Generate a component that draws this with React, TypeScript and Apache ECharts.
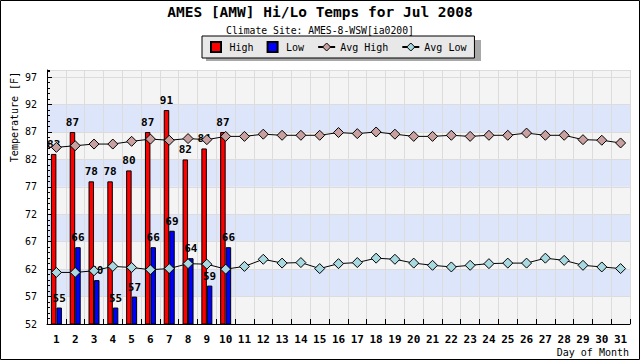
import React, { useEffect, useRef } from 'react';
import * as echarts from 'echarts';

const days = ['1', '2', '3', '4', '5', '6', '7', '8', '9', '10', '11', '12', '13', '14', '15', '16', '17', '18', '19', '20', '21', '22', '23', '24', '25', '26', '27', '28', '29', '30', '31'];
const highTemps = [83, 87, 78, 78, 80, 87, 91, 82, 84, 87];
const lowTemps = [55, 66, 60, 55, 57, 66, 69, 64, 59, 66];
const avgHigh = [84.2, 84.5, 84.8, 84.8, 85.3, 85.7, 85.5, 85.8, 85.6, 86.2, 86.2, 86.6, 86.4, 86.4, 86.4, 86.9, 86.7, 87.0, 86.6, 86.2, 86.2, 86.4, 86.2, 86.4, 86.4, 86.8, 86.4, 86.4, 85.6, 85.5, 85.0];
const avgLow = [61.4, 61.4, 61.7, 62.5, 62.3, 61.9, 62.1, 63.0, 62.9, 62.0, 62.5, 63.8, 63.1, 63.2, 62.1, 63.0, 63.2, 64.0, 63.8, 63.1, 62.7, 62.4, 62.7, 63.0, 63.1, 63.1, 64.0, 63.6, 62.7, 62.4, 62.1];
const yMin = 52;
const yMax = 98.3;
const yStep = 5;

const MONO = "'DejaVu Sans Mono', monospace";
const GRAY = '#f4f4f4';
const BLUE = '#dce5fa';
const AVG_HIGH_COLOR = '#c9a0a0';
const AVG_LOW_COLOR = '#a8d8e0';

export default function App() {
  const ref = useRef<HTMLDivElement>(null);
  useEffect(() => {
    document.body.style.margin = '0';
    const chart = echarts.init(ref.current!, null, { renderer: 'svg' });
    const barLabel = {
      show: true,
      position: 'top',
      distance: 4,
      fontFamily: MONO,
      fontWeight: 'bold',
      fontSize: 11,
      color: '#000',
    };
    chart.setOption({
      animation: false,
      backgroundColor: '#fff',
      title: {
        text: 'AMES [AMW] Hi/Lo Temps for Jul 2008',
        subtext: 'Climate Site: AMES-8-WSW[ia0200]',
        left: 'center',
        top: 4,
        itemGap: 6,
        padding: 0,
        textStyle: { fontFamily: MONO, fontSize: 14.5, fontWeight: 'bold', color: '#000' },
        subtextStyle: { fontFamily: MONO, fontSize: 9.75, color: '#000' },
      },
      legend: {
        left: 202,
        top: 36,
        padding: [5, 8],
        itemGap: 13,
        itemWidth: 17,
        itemHeight: 10,
        backgroundColor: '#e8e8e8',
        borderColor: '#000',
        borderWidth: 1,
        borderRadius: 0,
        z: 5,
        textStyle: { fontFamily: MONO, fontSize: 10, color: '#000' },
        data: [
          { name: 'High', icon: 'path://M0,0H10V10H0Z' },
          { name: 'Low', icon: 'path://M0,0H10V10H0Z' },
          { name: 'Avg High', itemStyle: { color: AVG_HIGH_COLOR, borderColor: '#000', borderWidth: 1 } },
          { name: 'Avg Low', itemStyle: { color: AVG_LOW_COLOR, borderColor: '#000', borderWidth: 1 } },
        ],
      },
      grid: { left: 47, right: 10, top: 70, bottom: 36 },
      xAxis: {
        type: 'category',
        data: days,
        boundaryGap: true,
        axisLine: { lineStyle: { color: '#000', width: 1 } },
        axisTick: { show: true, inside: true, length: 5, lineStyle: { color: '#000' } },
        axisLabel: { fontFamily: MONO, fontWeight: 'bold', fontSize: 11, color: '#000', margin: 10, interval: 0 },
        splitLine: { show: true, lineStyle: { color: '#dcdcdc', width: 1 } },
      },
      yAxis: [
        {
          type: 'value',
          min: yMin,
          max: yMax,
          interval: yStep,
          axisLine: { show: true, lineStyle: { color: '#000', width: 1 } },
          axisTick: { show: true, inside: true, length: 5, lineStyle: { color: '#000' } },
          axisLabel: {
            fontFamily: MONO,
            fontSize: 10,
            color: '#000',
            margin: 10,
            showMaxLabel: false,
            formatter: (v: number) => (Math.abs((v - yMin) % yStep) < 1e-6 ? String(v) : ''),
          },
          splitLine: { show: true, lineStyle: { color: '#dcdcdc', width: 1 } },
          splitArea: {
            show: true,
            areaStyle: { color: [GRAY, BLUE, GRAY, BLUE, GRAY, BLUE, GRAY, BLUE, GRAY, GRAY] },
          },
        },
        {
          type: 'value',
          min: yMin,
          max: yMax,
          interval: 1,
          position: 'left',
          axisLine: { show: false },
          axisTick: { show: true, inside: true, length: 3, lineStyle: { color: '#000' } },
          axisLabel: { show: false },
          splitLine: { show: false },
          splitArea: { show: false },
        },
      ],
      graphic: [
        {
          type: 'rect',
          shape: { x: 206, y: 40, width: 275, height: 21 },
          style: { fill: '#a8a8a8' },
          z: 1,
        },
        {
          type: 'text',
          x: 14,
          y: 117,
          rotation: Math.PI / 2,
          style: {
            text: 'Temperature [F]',
            fontFamily: MONO,
            fontSize: 10,
            fill: '#000',
            textAlign: 'center',
            textVerticalAlign: 'middle',
          },
        },
        {
          type: 'text',
          x: 629,
          y: 352,
          style: {
            text: 'Day of Month',
            fontFamily: MONO,
            fontSize: 10,
            fill: '#000',
            textAlign: 'right',
            textVerticalAlign: 'middle',
          },
        },
        {
          type: 'rect',
          shape: { x: 0.5, y: 0.5, width: 639, height: 359 },
          style: { fill: 'none', stroke: '#000', lineWidth: 1 },
          z: 100,
        },
      ],
      series: [
        {
          name: 'High',
          type: 'bar',
          data: highTemps,
          barWidth: 5.5,
          barGap: '0%',
          itemStyle: { color: '#ff0000', borderColor: '#000', borderWidth: 1 },
          label: barLabel,
          z: 2,
        },
        {
          name: 'Low',
          type: 'bar',
          data: lowTemps,
          barWidth: 5.5,
          barGap: '0%',
          itemStyle: { color: '#0000ff', borderColor: '#000', borderWidth: 1 },
          label: barLabel,
          z: 2,
        },
        {
          name: 'Avg High',
          type: 'line',
          data: avgHigh,
          symbol: 'diamond',
          symbolSize: 10,
          showAllSymbol: true,
          lineStyle: { color: '#000', width: 1 },
          itemStyle: { color: AVG_HIGH_COLOR, borderColor: '#000', borderWidth: 1 },
          z: 10,
        },
        {
          name: 'Avg Low',
          type: 'line',
          data: avgLow,
          symbol: 'diamond',
          symbolSize: 10,
          showAllSymbol: true,
          lineStyle: { color: '#000', width: 1 },
          itemStyle: { color: AVG_LOW_COLOR, borderColor: '#000', borderWidth: 1 },
          z: 10,
        },
      ],
    });
    return () => chart.dispose();
  }, []);
  return <div ref={ref} style={{ width: 640, height: 360 }} />;
}
